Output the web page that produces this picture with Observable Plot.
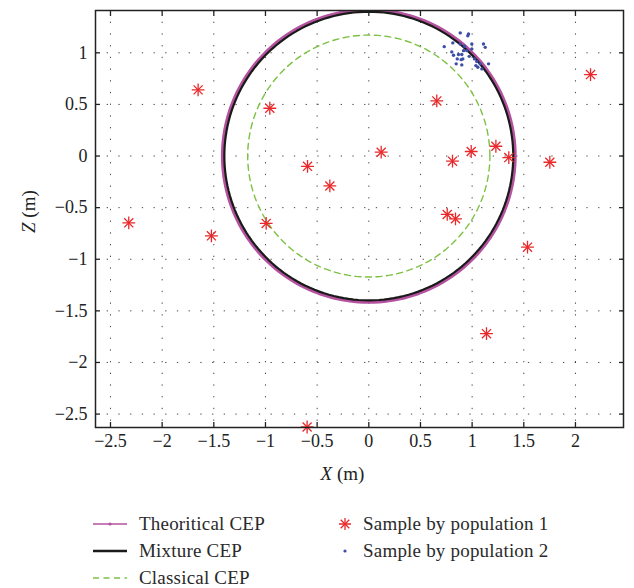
<!DOCTYPE html>
<html><head><meta charset="utf-8">
<script src="https://cdn.jsdelivr.net/npm/d3@7"></script>
<script src="https://cdn.jsdelivr.net/npm/@observablehq/plot@0.6"></script>
<style>
body{margin:0;background:#fff;font-family:"Liberation Serif",serif;}
#legend{position:relative;height:98px;width:634px;}
.item{position:absolute;height:22px;display:flex;align-items:center;font-size:19px;letter-spacing:0.2px;color:#2a2a2a;white-space:nowrap;}
.item svg{display:block;}
</style></head><body><div id="chart"></div><div id="legend"></div>
<script>
const cepNames = ["Theoritical CEP", "Mixture CEP", "Classical CEP"];
const cepRadius = [1.415, 1.398, 1.172];
const cepColors = ["#b5529f", "#1a1a1a", "#7cc142"];

const pop1X = [-1.652, -0.958, 0.12, -0.593, -0.377, -2.323, -1.523, -0.993, 0.658, 0.81, 0.991, 1.23, 1.355, 1.752, 0.759, 0.839, 1.536, 1.139, -0.597, 2.146];
const pop1Z = [0.641, 0.463, 0.037, -0.10, -0.29, -0.647, -0.773, -0.653, 0.534, -0.05, 0.044, 0.095, -0.015, -0.06, -0.566, -0.608, -0.883, -1.721, -2.625, 0.789];

const pop2X = [0.885, 0.965, 0.958, 0.730, 0.803, 0.820, 0.868, 0.900, 0.856, 0.894, 0.910, 0.846, 0.900, 0.885, 0.926, 0.949, 0.972, 1.023, 1.045, 1.036, 1.078, 1.094, 1.159, 1.110, 1.127, 0.997, 0.917, 1.055, 0.813, 0.997];
const pop2Z = [1.193, 1.183, 1.166, 1.060, 1.009, 0.976, 0.983, 0.983, 0.941, 0.934, 0.941, 0.893, 0.883, 1.086, 1.063, 1.021, 0.966, 0.941, 0.915, 0.876, 0.893, 0.844, 0.893, 1.086, 1.053, 1.086, 1.021, 0.860, 1.096, 1.038];

const xTicks = [-2.5, -2, -1.5, -1, -0.5, 0, 0.5, 1, 1.5, 2];
const yTicks = [-2.5, -2, -1.5, -1, -0.5, 0, 0.5, 1];

const pop1 = pop1X.map((x, i) => ({x, z: pop1Z[i]}));
const pop2 = pop2X.map((x, i) => ({x, z: pop2Z[i]}));
const angles = d3.range(0, 361, 2).map(d => d * Math.PI / 180);
const circles = cepNames.map((name, i) => angles.map(a => ({name, x: cepRadius[i] * Math.cos(a), z: cepRadius[i] * Math.sin(a)})));

const fmt = d => d === 0 ? "0" : (d < 0 ? "\u2212" : "") + Math.abs(d);
const red = "#e8282a", blue = "#3b4ea6";
const serif = "Liberation Serif, serif";

const chart = Plot.plot({
  width: 634, height: 490,
  marginTop: 10, marginRight: 11, marginBottom: 63, marginLeft: 95,
  style: {fontFamily: serif, fontSize: "18px", color: "#222", background: "#fff"},
  x: {domain: [-2.645, 2.465], ticks: xTicks, tickFormat: fmt, label: null},
  y: {domain: [-2.63, 1.41], ticks: yTicks, tickFormat: fmt, label: null},
  marks: [
    Plot.gridX(xTicks, {stroke: "#333", strokeOpacity: 0.9, strokeDasharray: "1.3,10.4"}),
    Plot.gridY(yTicks, {stroke: "#333", strokeOpacity: 0.9, strokeDasharray: "1.3,10.4"}),
    Plot.line(circles[2], {x: "x", y: "z", stroke: cepColors[2], strokeWidth: 1.4, strokeDasharray: "6,4.5", clip: true}),
    Plot.line(circles[0], {x: "x", y: "z", stroke: cepColors[0], strokeWidth: 3.4, clip: true}),
    Plot.line(circles[1], {x: "x", y: "z", stroke: cepColors[1], strokeWidth: 2.2, clip: true}),
    Plot.dot(pop2, {x: "x", y: "z", r: 1.7, fill: blue, stroke: "none"}),
    Plot.dot(pop1, {x: "x", y: "z", symbol: "plus", r: 4.2, stroke: red, strokeWidth: 1.3}),
    Plot.dot(pop1, {x: "x", y: "z", symbol: "times", r: 4.2, stroke: red, strokeWidth: 1.3}),
    Plot.frame({stroke: "#222", strokeWidth: 1.5}),
    Plot.axisX({anchor: "bottom", ticks: xTicks, tickSize: 0, tickPadding: 7, tickFormat: fmt, label: null, fontSize: 18, fontFamily: serif}),
    Plot.axisY({anchor: "left", ticks: yTicks, tickSize: 0, tickPadding: 8, tickFormat: fmt, label: null, fontSize: 18, fontFamily: serif}),
    Plot.axisX({anchor: "bottom", ticks: xTicks, tickSize: -5, tickFormat: () => "", label: null, stroke: "#222", strokeWidth: 1.3}),
    Plot.axisX({anchor: "top", ticks: xTicks, tickSize: -5, tickFormat: () => "", label: null, stroke: "#222", strokeWidth: 1.3}),
    Plot.axisY({anchor: "left", ticks: yTicks, tickSize: -5, tickFormat: () => "", label: null, stroke: "#222", strokeWidth: 1.3}),
    Plot.axisY({anchor: "right", ticks: yTicks, tickSize: -5, tickFormat: () => "", label: null, stroke: "#222", strokeWidth: 1.3}),
    Plot.text(["X (m)"], {frameAnchor: "bottom", dy: 52, dx: -17, fontSize: 19, fontFamily: serif, fill: "#222"}),
    Plot.text(["Z (m)"], {frameAnchor: "left", rotate: -90, dx: -67, dy: 14, fontSize: 19, fontFamily: serif, fill: "#222"})
  ]
});
document.getElementById("chart").appendChild(chart);

// italicize axis variable letters
d3.select(chart).selectAll("text").each(function() {
  const t = this.textContent;
  if (t === "X (m)" || t === "Z (m)") {
    const sel = d3.select(this);
    sel.text(null);
    sel.append("tspan").attr("font-style", "italic").text(t[0]);
    sel.append("tspan").text(t.slice(1));
  }
});

// legend
const legend = d3.select("#legend");
const rows = [34, 61, 88];
function addItem(left, row, drawSample, label, sampleW, textLeft) {
  const it = legend.append("div").attr("class", "item").style("left", left + "px").style("top", (rows[row] - 11) + "px");
  const s = it.append("svg").attr("width", sampleW).attr("height", 22);
  drawSample(s);
  it.append("span").style("margin-left", (textLeft - left - sampleW) + "px").text(label);
}
addItem(93, 0, s => {
  s.append("line").attr("x1", 0).attr("x2", 34).attr("y1", 11).attr("y2", 11).attr("stroke", cepColors[0]).attr("stroke-width", 1.6);
  s.append("circle").attr("cx", 17).attr("cy", 11).attr("r", 1.6).attr("fill", cepColors[0]);
}, cepNames[0], 34, 139);
addItem(93, 1, s => {
  s.append("line").attr("x1", 0).attr("x2", 34).attr("y1", 11).attr("y2", 11).attr("stroke", cepColors[1]).attr("stroke-width", 2.4);
}, cepNames[1], 34, 139);
addItem(93, 2, s => {
  s.append("line").attr("x1", 0).attr("x2", 34).attr("y1", 11).attr("y2", 11).attr("stroke", cepColors[2]).attr("stroke-width", 1.4).attr("stroke-dasharray", "6,4.5");
}, cepNames[2], 34, 139);
addItem(339, 0, s => {
  s.append("path").attr("d", d3.symbol(d3.symbolPlus, 50)()).attr("transform", "translate(6,11)").attr("stroke", red).attr("stroke-width", 1.3).attr("fill", "none");
  s.append("path").attr("d", d3.symbol(d3.symbolTimes, 50)()).attr("transform", "translate(6,11)").attr("stroke", red).attr("stroke-width", 1.3).attr("fill", "none");
}, "Sample by population 1", 12, 363);
addItem(339, 1, s => {
  s.append("circle").attr("cx", 6).attr("cy", 11).attr("r", 1.6).attr("fill", blue);
}, "Sample by population 2", 12, 363);
</script></body></html>
